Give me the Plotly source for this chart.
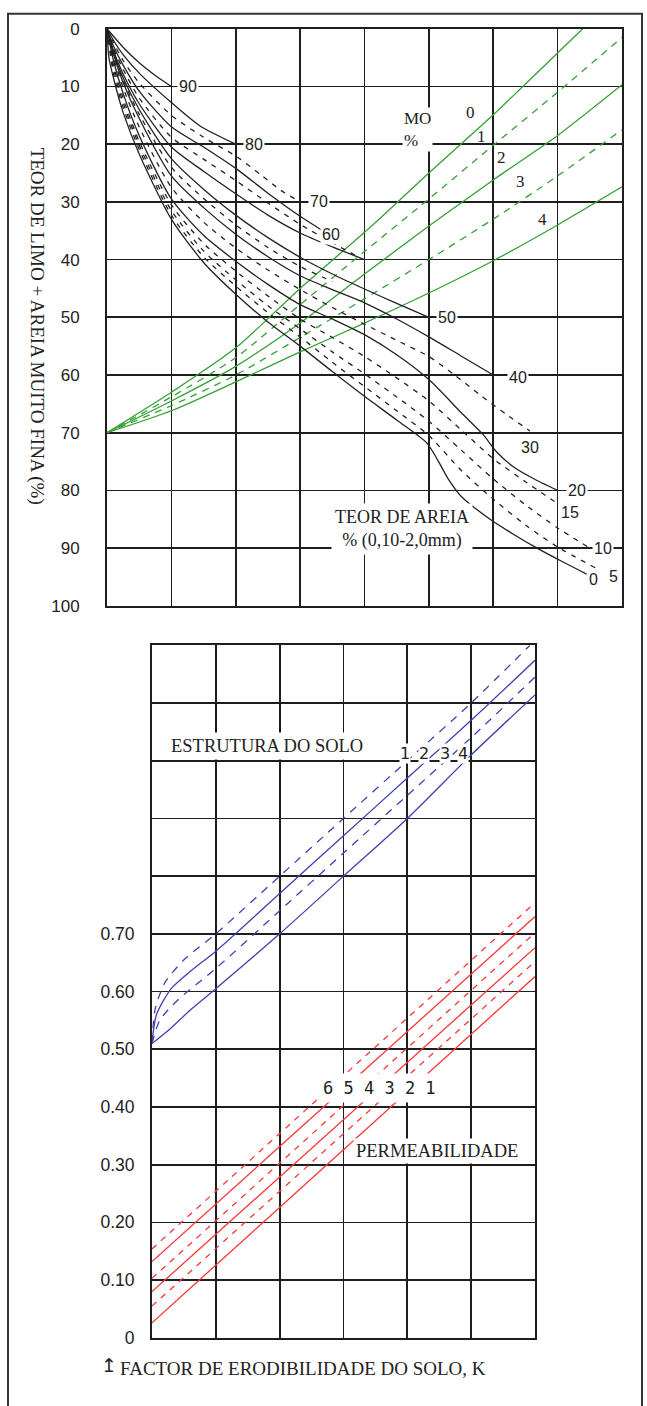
import plotly.graph_objects as go

W, H = 647, 1406

# ---------------- DATA ----------------
# Top nomograph: x = grid column (0..8), y = teor de limo + areia muito fina (%)
y_ticks_top = [0, 10, 20, 30, 40, 50, 60, 70, 80, 90, 100]

# sand-content curves
sand90 = [(0, 0), (0.1, 1.3), (0.25, 3.2), (0.5, 5.9), (0.75, 8.1), (1, 10)]
sand80 = [(0, 0), (0.1, 2), (0.25, 4.5), (0.5, 7.7), (1, 12.8), (1.44, 16.8), (2, 20)]
sand70 = [(0, 0), (0.1, 2.4), (0.25, 5.5), (0.5, 9.4), (1, 15), (1.5, 18.8), (2.02, 22.2),
          (2.4, 25.4), (2.7, 28), (3, 30)]
sand60 = [(0, 0), (0.1, 3), (0.25, 6.3), (0.5, 10.8), (1, 17), (1.5, 20.5), (2, 24.2),
          (2.5, 28.5), (3, 32.5), (3.35, 35)]
sand65 = [(0, 0), (0.1, 3.4), (0.25, 7), (0.5, 12), (1, 18.8), (1.5, 22.6), (2, 26.3),
          (2.5, 30.2), (3, 33.9), (3.5, 37.1), (3.85, 39.2)]
sand55 = [(0, 0), (0.1, 3.8), (0.25, 7.8), (0.5, 13), (1, 20.5), (1.5, 24.7), (2, 28.6),
          (2.5, 32.3), (3, 35.4), (3.5, 37.8), (4, 40)]
sand50 = [(0, 0), (0.1, 4.1), (0.25, 8.5), (0.5, 14), (1, 22.5), (1.5, 27.8), (2, 32.3),
          (2.5, 36.2), (3, 39.6), (3.5, 42.5), (4, 45.1), (4.5, 47.6), (5, 50)]
sand45 = [(0, 0), (0.1, 4.25), (0.25, 8.9), (0.5, 14.8), (1, 24), (1.5, 29.4), (2, 34),
          (2.5, 37.9), (3, 41.2), (3.5, 43.8)]
sand40 = [(0, 0), (0.1, 4.4), (0.25, 9.3), (0.5, 15.5), (1, 25.5), (1.5, 31), (2, 35.6),
          (2.5, 39.5), (3, 42.8), (3.5, 45.2), (4, 47.5), (4.5, 50.3), (5, 53.4),
          (5.5, 56.7), (6, 60)]
sand30 = [(0, 0), (0.1, 4.9), (0.25, 10.2), (0.5, 17), (1, 27.5), (1.5, 33.5), (2, 38),
          (2.5, 41.8), (3, 45.2), (3.5, 48.3), (4, 51.2), (4.5, 54), (5, 56.8),
          (5.4, 60), (5.8, 63.5), (6.2, 66.8), (6.57, 69.7)]
sand20 = [(0, 0), (0.1, 5.5), (0.25, 11.2), (0.5, 18.5), (1, 29.5), (1.5, 35.8), (2, 40.3),
          (2.5, 44.3), (3, 47.8), (3.5, 50.3), (4, 53), (4.5, 56.5), (5, 60.8),
          (5.5, 66.5), (5.84, 70.3), (6.05, 73.3), (6.3, 75.8), (6.6, 77.8), (7, 80)]
sand15 = [(0, 0), (0.1, 6.3), (0.25, 12), (0.5, 19.5), (1, 30.5), (1.5, 37.2), (2, 42),
          (2.5, 46.3), (3, 50.3), (3.5, 53.5), (4, 56.8), (4.5, 60.5), (5, 64.5),
          (5.5, 69.5), (6, 74.5), (6.5, 78.5), (7, 82.3)]
sand10 = [(0, 0), (0.1, 7), (0.25, 12.8), (0.5, 20.2), (1, 31.5), (1.5, 38.5), (2, 43.5),
          (2.5, 48), (3, 52), (3.5, 56), (4, 59.8), (4.5, 63.8), (5, 68), (5.5, 73),
          (6, 78), (6.5, 82.5), (7, 86.5), (7.5, 90)]
sand5 = [(0, 0), (0.1, 7.8), (0.25, 13.6), (0.5, 20.9), (1, 32.3), (1.5, 39.5), (2, 44.6),
         (2.5, 49.2), (3, 53.4), (3.5, 57.8), (4, 62), (4.5, 66.2), (5, 70.5), (5.5, 76.5),
         (6, 81.5), (6.5, 86), (7, 89.8), (7.6, 93.5)]
sand0 = [(0, 0), (0.03, 5), (0.1, 8.5), (0.25, 14.5), (0.5, 21.7), (1, 33), (1.5, 40.5),
         (2, 46), (2.5, 50.8), (3, 55), (3.5, 59.4), (4, 63.7), (4.5, 67.8), (4.97, 71.8),
         (5.15, 75), (5.3, 78), (5.5, 81), (5.95, 85), (6.3, 87.5), (6.68, 90), (7.1, 92.5),
         (7.45, 94.5)]

# organic-matter (MO %) lines
mo0 = [(0, 70), (1, 63), (2, 55.3), (3, 45), (4.08, 34.5), (5, 25), (6, 14.9), (6.46, 10), (7.39, 0)]
mo1 = [(0, 70), (1, 63.8), (2, 57), (3, 47.8), (4, 38.6), (5, 29.5), (6, 20.2), (7, 11), (8, 1.5)]
mo2 = [(0, 70), (1, 64.5), (2, 58.5), (3, 51), (4, 42.5), (5, 34.2), (6, 26.2), (7, 18.5), (8, 9.7)]
mo3 = [(0, 70), (1, 65.3), (2, 60), (3, 53.5), (4, 46.8), (5, 40), (6, 33), (7, 25.5), (8, 17.5)]
mo4 = [(0, 70), (1, 66.2), (2, 61.2), (3, 56), (4, 51), (5, 45.8), (6, 40.2), (7, 34), (8, 27.4)]

# Bottom nomograph: x = grid column (0..6), y = K factor
k_tick_vals = [0, 0.1, 0.2, 0.3, 0.4, 0.5, 0.6, 0.7, 0.8, 0.9, 1.0, 1.1, 1.2]
k_tick_text = ["0", "0.10", "0.20", "0.30", "0.40", "0.50", "0.60", "0.70", "", "", "", "", ""]

# soil structure lines 1..4
est1 = [(0, 0.51), (0.05, 0.57), (0.2, 0.615), (0.5, 0.655), (1, 0.70), (2, 0.80), (3, 0.90),
        (4, 1.0), (5, 1.1), (5.92, 1.2)]
est2 = [(0, 0.51), (0.07, 0.56), (0.3, 0.605), (0.6, 0.635), (1, 0.67), (2, 0.77), (3, 0.87),
        (4, 0.97), (5, 1.07), (6, 1.174)]
est3 = [(0, 0.51), (0.12, 0.55), (0.4, 0.585), (1, 0.64), (2, 0.74), (3, 0.84), (4, 0.94),
        (5, 1.04), (6, 1.145)]
est4 = [(0, 0.51), (0.3, 0.537), (0.6, 0.568), (1, 0.605), (2, 0.70), (3, 0.80), (4, 0.90),
        (5, 1.01), (6, 1.114)]

# permeability lines 6..1 (straight)
perm6 = [(0, 0.154), (6, 0.754)]
perm5 = [(0, 0.132), (6, 0.730)]
perm4 = [(0, 0.103), (6, 0.702)]
perm3 = [(0, 0.080), (6, 0.676)]
perm2 = [(0, 0.055), (6, 0.652)]
perm1 = [(0, 0.026), (6, 0.626)]

# ---------------- STYLES ----------------
BLACK = "#222222"
GREEN = "#35a035"
BLUE = "#4040b0"
RED = "#ff3535"
GRID = "#1e1e1e"

sand_series = [
    (sand90, "solid"), (sand80, "solid"), (sand70, "dash"), (sand60, "solid"),
    (sand65, "dash"), (sand55, "solid"), (sand50, "solid"), (sand45, "dash"),
    (sand40, "solid"), (sand30, "dash"), (sand20, "solid"), (sand15, "dash"),
    (sand10, "dash"), (sand5, "dash"), (sand0, "solid"),
]
mo_series = [(mo0, "solid"), (mo1, "dash"), (mo2, "solid"), (mo3, "dash"), (mo4, "solid")]
est_series = [(est1, "dash"), (est2, "solid"), (est3, "dash"), (est4, "solid")]
perm_series = [(perm6, "dash"), (perm5, "solid"), (perm4, "dash"), (perm3, "solid"),
               (perm2, "dash"), (perm1, "solid")]

DASH = {"black": "5px,6px", "green": "7px,6px", "blue": "8px,7px", "red": "6px,6px"}

fig = go.Figure()


def add_series(series, color, dashkey, xa, ya, spline=True):
    for pts, style in series:
        fig.add_trace(go.Scatter(
            x=[p[0] for p in pts], y=[p[1] for p in pts], mode="lines",
            line=dict(color=color, width=1.3,
                      dash=DASH[dashkey] if style == "dash" else "solid",
                      shape="spline" if spline else "linear", smoothing=0.7),
            xaxis=xa, yaxis=ya, hoverinfo="skip", showlegend=False))


add_series(mo_series, GREEN, "green", "x", "y")
add_series(sand_series, BLACK, "black", "x", "y")
add_series(est_series, BLUE, "blue", "x2", "y2")
add_series(perm_series, RED, "red", "x2", "y2", spline=False)

SERIF = "Liberation Serif"
SANS = "Liberation Sans"

ann = []


def txt(text, x, y, size, family, xref="x", yref="y", bg="white", xanchor="center",
        yanchor="middle", align="center", angle=0, pad=1):
    ann.append(dict(text=text, x=x, y=y, xref=xref, yref=yref, showarrow=False,
                    font=dict(size=size, family=family, color=BLACK),
                    bgcolor=bg, xanchor=xanchor, yanchor=yanchor, align=align,
                    textangle=angle, borderpad=pad))


def pp(px, py):
    return px / W, 1 - py / H


# sand curve labels
for t, x, y in [("90", 1.26, 10), ("80", 2.28, 20), ("70", 3.29, 30), ("60", 3.48, 35.6),
                ("50", 5.28, 50), ("40", 6.38, 60.5), ("30", 6.57, 72.6), ("20", 7.3, 80),
                ("15", 7.19, 83.9), ("10", 7.7, 90), ("0", 7.56, 95.4), ("5", 7.87, 94.9)]:
    txt(t, x, y, 16, SANS)

# MO labels
for t, x, y in [("0", 5.65, 14.5), ("1", 5.82, 18.6), ("2", 6.13, 22.3), ("3", 6.43, 26.5),
                ("4", 6.77, 33)]:
    txt(t, x, y, 17, SERIF, bg="rgba(0,0,0,0)")

x_, y_ = pp(402, 122)
txt("MO<br>%", x_, y_, 17, SERIF, xref="paper", yref="paper", xanchor="left", align="left")
x_, y_ = pp(402, 527)
txt("TEOR DE AREIA<br>% (0,10-2,0mm)", x_, y_, 18, SERIF, xref="paper", yref="paper", pad=3)
x_, y_ = pp(37, 321)
txt("TEOR DE LIMO + AREIA MUITO FINA (%)", x_, y_, 19, SERIF, xref="paper", yref="paper",
    angle=90, bg="rgba(0,0,0,0)")

# bottom chart texts
x_, y_ = pp(167, 747)
txt("ESTRUTURA DO SOLO", x_, y_, 18.5, SERIF, xref="paper", yref="paper", xanchor="left", pad=3)
for t, x in [("1", 3.96), ("2", 4.26), ("3", 4.59), ("4", 4.87)]:
    txt(t, x, 1.013, 16, "DejaVu Sans", xref="x2", yref="y2", pad=0)
x_, y_ = pp(379.5, 1094)
txt("6 5 4 3 2 1", x_, y_, 17, "DejaVu Sans Mono", xref="paper", yref="paper", pad=4)
x_, y_ = pp(437, 1158)
txt("PERMEABILIDADE", x_, y_, 18.5, SERIF, xref="paper", yref="paper", pad=2)
x_, y_ = pp(118, 1378)
txt("FACTOR DE ERODIBILIDADE DO SOLO, K", x_, y_, 19, SERIF, xref="paper", yref="paper",
    xanchor="left", bg="rgba(0,0,0,0)")
x_, y_ = pp(109, 1375)
txt("↥", x_, y_, 19, "DejaVu Sans", xref="paper", yref="paper", bg="rgba(0,0,0,0)")

axis_common = dict(showgrid=True, gridcolor=GRID, gridwidth=1.7, zeroline=False,
                   showline=True, mirror=True, linecolor=GRID, linewidth=2)

fig.update_layout(
    width=W, height=H, autosize=False,
    margin=dict(l=0, r=0, t=0, b=0),
    paper_bgcolor="white", plot_bgcolor="white",
    showlegend=False,
    xaxis=dict(domain=[107 / W, 622 / W], range=[0, 8], dtick=1, tick0=0,
               showticklabels=False, ticks="", anchor="y", fixedrange=True, **axis_common),
    yaxis=dict(domain=[1 - 605 / H, 1 - 20 / H], range=[100, 0], tickvals=y_ticks_top,
               ticktext=[str(v) for v in y_ticks_top], ticks="outside", ticklen=22,
               tickcolor="rgba(0,0,0,0)", tickfont=dict(family=SANS, size=17, color=BLACK),
               anchor="x", fixedrange=True, **axis_common),
    xaxis2=dict(domain=[152 / W, 535 / W], range=[0, 6], dtick=1, tick0=0,
                showticklabels=False, ticks="", anchor="y2", fixedrange=True, **axis_common),
    yaxis2=dict(domain=[1 - 1347 / H, 1 - 645 / H], range=[0, 1.2], tickvals=k_tick_vals,
                ticktext=k_tick_text, ticks="outside", ticklen=12,
                tickcolor="rgba(0,0,0,0)", tickfont=dict(family=SANS, size=17.5, color=BLACK),
                anchor="x2", fixedrange=True, **axis_common),
    annotations=ann,
    shapes=[dict(type="rect", xref="paper", yref="paper", x0=8 / W, x1=642 / W,
                 y0=1 - 1420 / H, y1=1 - 4.7 / H, line=dict(color="#333333", width=2),
                 fillcolor="rgba(0,0,0,0)", layer="above")],
)

fig.write_html("out.html", config={"displayModeBar": False, "staticPlot": True},
               post_script="document.body.style.margin='0';document.body.style.overflow='hidden';")
